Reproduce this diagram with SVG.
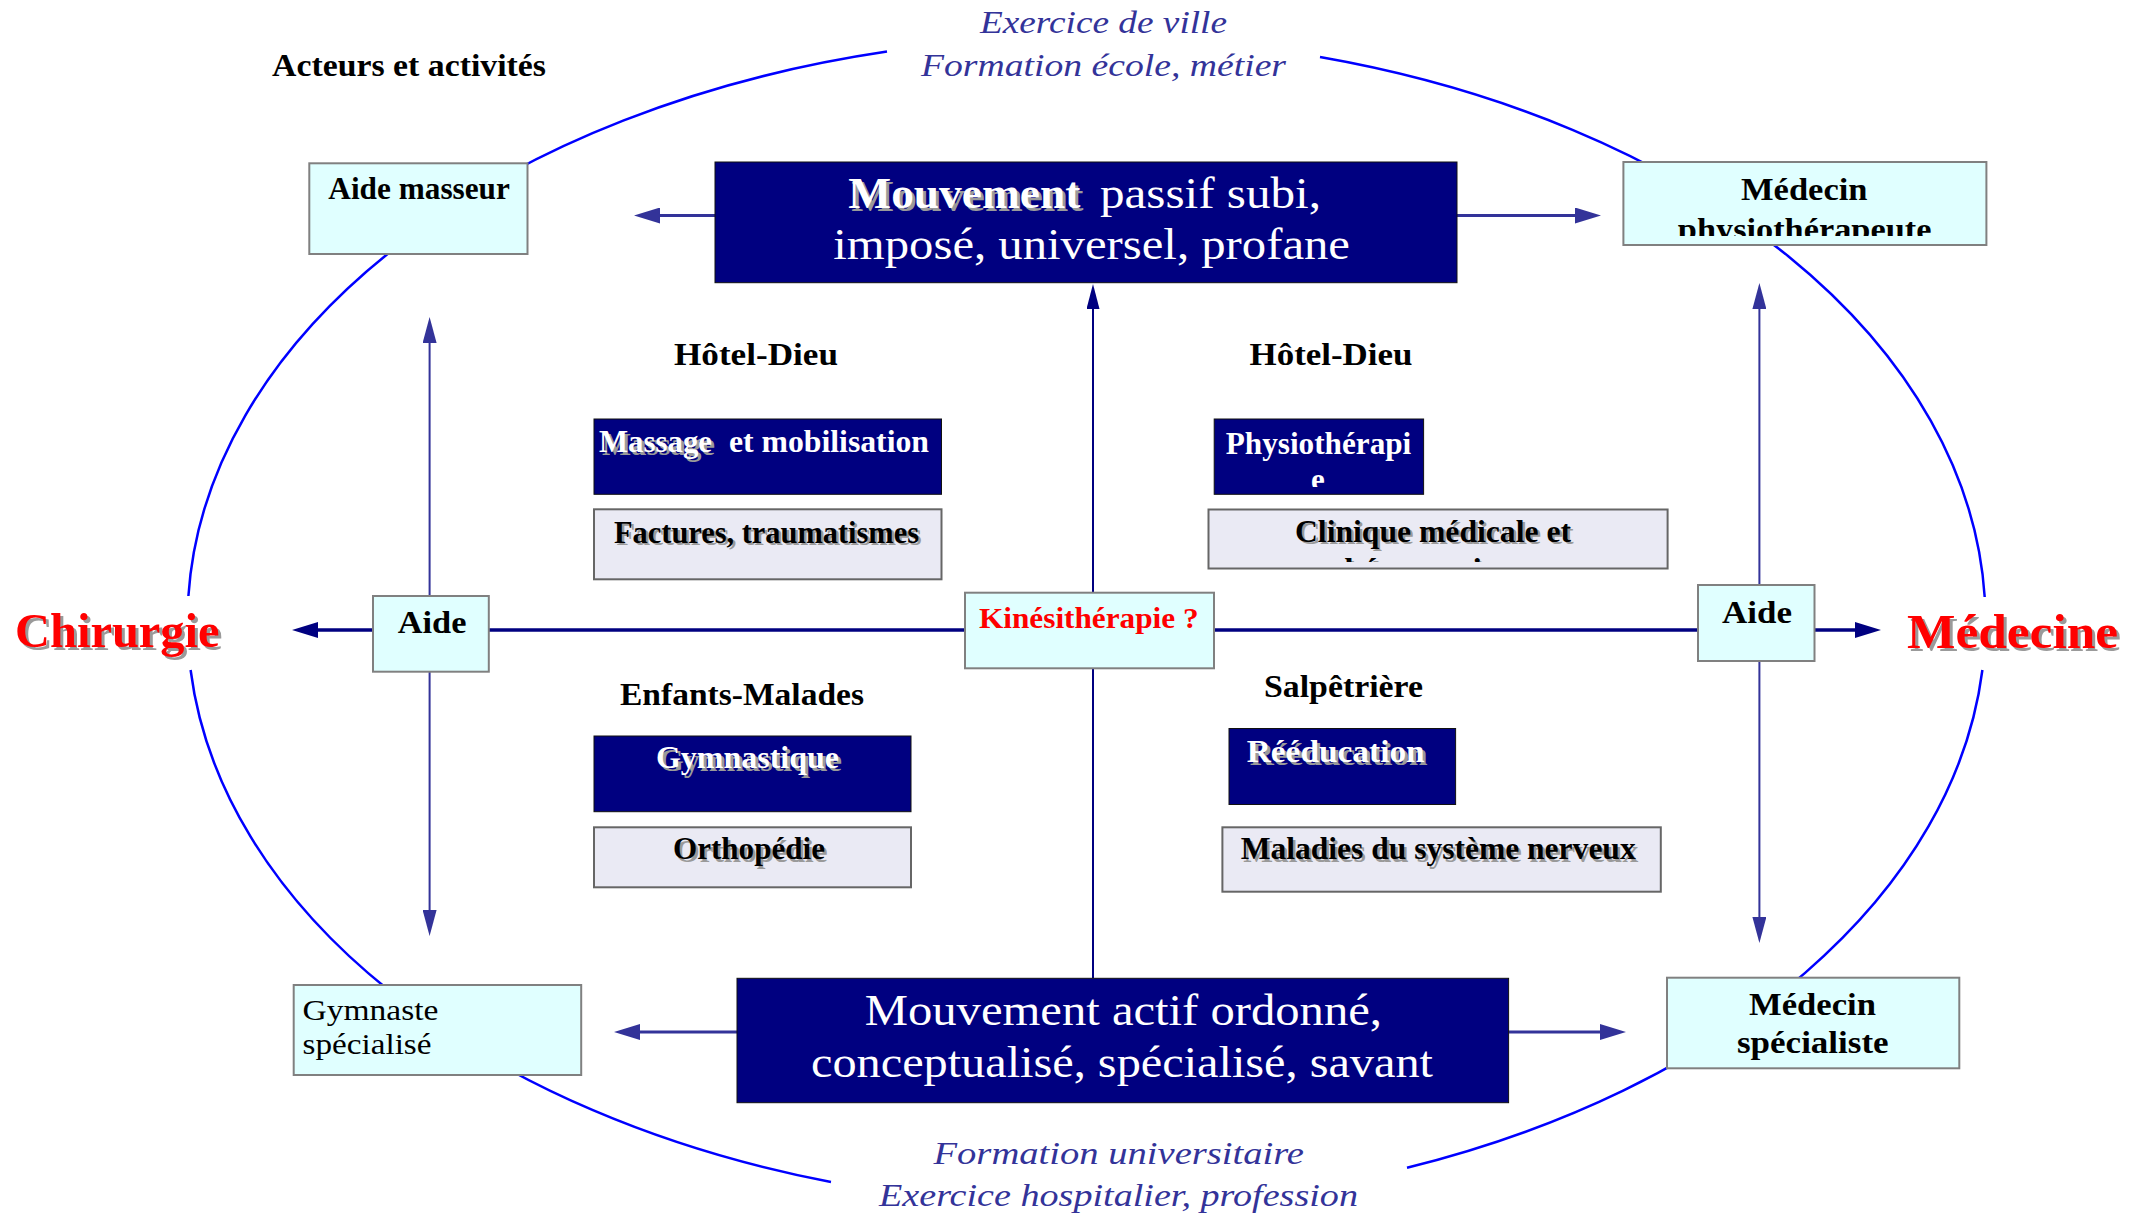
<svg xmlns="http://www.w3.org/2000/svg" width="2131" height="1217" viewBox="0 0 2131 1217">
<style>
.cyan{fill:#E0FFFF;stroke:#808080;stroke-width:2}
.lav{fill:#EAEAF4;stroke:#666666;stroke-width:2}
.navy{fill:#000080;stroke:#111111;stroke-width:1}
.t{font-family:"Liberation Serif","Times New Roman",serif;font-weight:bold;font-size:31px;fill:#000000}
.w{fill:#FFFFFF}
.sh{fill:#9A9A9A}
.red{fill:#FF0000}
.it{font-style:italic;font-weight:normal;font-size:32px;fill:#333399}
.big{font-weight:normal;font-size:45px;fill:#FFFFFF}
.huge{font-size:48px}
.reg{font-weight:normal}
.ell{fill:none;stroke:#0000FF;stroke-width:2.5}
.cb{stroke:#333399;stroke-width:3;fill:none}
.cv{stroke:#333399;stroke-width:2;fill:none}
.cn{stroke:#000080;stroke-width:3.5;fill:none}
.cc{stroke:#000080;stroke-width:2;fill:none}
</style>
<defs>
<marker id="ahB" markerUnits="userSpaceOnUse" viewBox="0 0 26 16" refX="0" refY="8" markerWidth="26" markerHeight="16" orient="auto-start-reverse"><path d="M0,0 L26,8 L0,16 z" fill="#333399"/></marker>
<marker id="ahN" markerUnits="userSpaceOnUse" viewBox="0 0 26 16" refX="0" refY="8" markerWidth="26" markerHeight="16" orient="auto-start-reverse"><path d="M0,0 L26,8 L0,16 z" fill="#000080"/></marker>
<marker id="ahV" markerUnits="userSpaceOnUse" viewBox="0 0 26 14" refX="0" refY="7" markerWidth="26" markerHeight="14" orient="auto-start-reverse"><path d="M0,0 L26,7 L0,14 z" fill="#333399"/></marker>
<marker id="ahC" markerUnits="userSpaceOnUse" viewBox="0 0 25 13" refX="0" refY="6.5" markerWidth="25" markerHeight="13" orient="auto-start-reverse"><path d="M0,0 L25,6.5 L0,13 z" fill="#000080"/></marker>
<clipPath id="clipMedPhys"><rect x="1623" y="162" width="364" height="74"/></clipPath>
<clipPath id="clipPhysio"><rect x="1214" y="419" width="210" height="68"/></clipPath>
<clipPath id="clipClin"><rect x="1208" y="509" width="460" height="53"/></clipPath>
</defs>

<g id="connectors">
  <path class="ell" d="M 887 51.6 A 899 584.6 0 0 0 188.4 596"/>
  <path class="ell" d="M 1320 57.1 A 899 584.6 0 0 1 1984.7 597"/>
  <path class="ell" d="M 1982.4 670 A 899 584.6 0 0 1 1407 1167.8"/>
  <path class="ell" d="M 831 1182.1 A 899 584.6 0 0 1 190.6 670"/>
  <line class="cn" x1="318" y1="630" x2="1855" y2="630" marker-start="url(#ahN)" marker-end="url(#ahN)"/>
  <line class="cv" x1="429.6" y1="343" x2="429.6" y2="910" marker-start="url(#ahV)" marker-end="url(#ahV)"/>
  <line class="cv" x1="1759.4" y1="309" x2="1759.4" y2="917" marker-start="url(#ahV)" marker-end="url(#ahV)"/>
  <line class="cc" x1="1093" y1="978" x2="1093" y2="309" marker-end="url(#ahC)"/>
  <line class="cb" x1="715" y1="215.5" x2="660" y2="215.5" marker-end="url(#ahB)"/>
  <line class="cb" x1="1457" y1="215.5" x2="1575" y2="215.5" marker-end="url(#ahB)"/>
  <line class="cb" x1="737" y1="1032" x2="640" y2="1032" marker-end="url(#ahB)"/>
  <line class="cb" x1="1508.6" y1="1032" x2="1600" y2="1032" marker-end="url(#ahB)"/>
</g>

<g id="label-acteurs">
  <text class="t" x="272" y="76" textLength="274" lengthAdjust="spacingAndGlyphs">Acteurs et activités</text>
</g>
<g id="label-ville">
  <text class="t it" x="980" y="33" textLength="247" lengthAdjust="spacingAndGlyphs">Exercice de ville</text>
  <text class="t it" x="921" y="75.5" textLength="365" lengthAdjust="spacingAndGlyphs">Formation école, métier</text>
</g>
<g id="label-universitaire">
  <text class="t it" x="933.5" y="1164.3" textLength="370.5" lengthAdjust="spacingAndGlyphs">Formation universitaire</text>
  <text class="t it" x="879" y="1206" textLength="479" lengthAdjust="spacingAndGlyphs">Exercice hospitalier, profession</text>
</g>

<g id="node-aide-masseur">
  <rect class="cyan" x="309.3" y="163.3" width="218.2" height="90.7"/>
  <text class="t" x="328.3" y="199" textLength="181.6" lengthAdjust="spacingAndGlyphs">Aide masseur</text>
</g>
<g id="node-medecin-physio">
  <rect class="cyan" x="1623.4" y="162" width="363" height="83"/>
  <text class="t" x="1741" y="200" textLength="126.5" lengthAdjust="spacingAndGlyphs">Médecin</text>
  <text class="t" x="1677.8" y="240" textLength="253.6" lengthAdjust="spacingAndGlyphs" clip-path="url(#clipMedPhys)">physiothérapeute</text>
</g>
<g id="node-mouvement-passif">
  <rect class="navy" x="715" y="162" width="742" height="120.7"/>
  <text class="t sh" x="851.3" y="211.3" textLength="232" lengthAdjust="spacingAndGlyphs" style="font-size:45px">Mouvement</text>
  <text class="t w" x="848.3" y="208.3" textLength="232" lengthAdjust="spacingAndGlyphs" style="font-size:45px">Mouvement</text>
  <text class="t big" x="1100" y="208.3" textLength="221" lengthAdjust="spacingAndGlyphs">passif subi,</text>
  <text class="t big" x="833.3" y="259.3" textLength="516.7" lengthAdjust="spacingAndGlyphs">imposé, universel, profane</text>
</g>

<g id="label-chirurgie">
  <text class="t huge sh" x="18" y="649.7" textLength="204.5" lengthAdjust="spacingAndGlyphs">Chirurgie</text>
  <text class="t huge red" x="15" y="646.7" textLength="204.5" lengthAdjust="spacingAndGlyphs">Chirurgie</text>
</g>
<g id="label-medecine">
  <text class="t huge sh" x="1910" y="650.7" textLength="211" lengthAdjust="spacingAndGlyphs">Médecine</text>
  <text class="t huge red" x="1907" y="647.7" textLength="211" lengthAdjust="spacingAndGlyphs">Médecine</text>
</g>

<g id="node-aide-left">
  <rect class="cyan" x="373" y="596" width="115.8" height="75.7"/>
  <text class="t" x="397.7" y="633.3" textLength="68.7" lengthAdjust="spacingAndGlyphs">Aide</text>
</g>
<g id="node-kinesitherapie">
  <rect class="cyan" x="965" y="592.7" width="249" height="75.6"/>
  <text class="t red" x="979" y="628.3" textLength="219.6" lengthAdjust="spacingAndGlyphs" style="font-size:30px">Kinésithérapie ?</text>
</g>
<g id="node-aide-right">
  <rect class="cyan" x="1698" y="585" width="116.5" height="76"/>
  <text class="t" x="1722" y="622.7" textLength="70" lengthAdjust="spacingAndGlyphs">Aide</text>
</g>

<g id="label-hotel-dieu-left">
  <text class="t" x="674" y="365" textLength="164" lengthAdjust="spacingAndGlyphs">Hôtel-Dieu</text>
</g>
<g id="label-hotel-dieu-right">
  <text class="t" x="1249.5" y="365" textLength="163" lengthAdjust="spacingAndGlyphs">Hôtel-Dieu</text>
</g>

<g id="node-massage">
  <rect class="navy" x="594" y="419" width="347.5" height="75.3"/>
  <text class="t sh" x="602" y="455" textLength="113" lengthAdjust="spacingAndGlyphs">Massage</text>
  <text class="t w" x="599" y="452" textLength="113" lengthAdjust="spacingAndGlyphs">Massage</text>
  <text class="t w" x="729" y="452" textLength="200" lengthAdjust="spacingAndGlyphs">et mobilisation</text>
</g>
<g id="node-factures">
  <rect class="lav" x="594" y="509.3" width="347.5" height="70"/>
  <text class="t sh" x="616.5" y="545.2" textLength="305" lengthAdjust="spacingAndGlyphs">Factures, traumatismes</text>
  <text class="t" x="614" y="542.7" textLength="305" lengthAdjust="spacingAndGlyphs">Factures, traumatismes</text>
</g>
<g id="node-physiotherapie">
  <rect class="navy" x="1214.2" y="419" width="209.4" height="75.3"/>
  <text class="t w" x="1225.8" y="454" textLength="185.5" lengthAdjust="spacingAndGlyphs">Physiothérapi</text>
  <text class="t w" x="1311" y="490" clip-path="url(#clipPhysio)">e</text>
</g>
<g id="node-clinique">
  <rect class="lav" x="1208.5" y="509.5" width="459.1" height="59"/>
  <g clip-path="url(#clipClin)">
    <text class="t sh" x="1297.5" y="544" textLength="276" lengthAdjust="spacingAndGlyphs">Clinique médicale et</text>
    <text class="t" x="1295" y="541.5" textLength="276" lengthAdjust="spacingAndGlyphs">Clinique médicale et</text>
    <text class="t sh" x="1335.5" y="582.5" textLength="201" lengthAdjust="spacingAndGlyphs">thérapeutique</text>
    <text class="t" x="1333" y="580" textLength="201" lengthAdjust="spacingAndGlyphs">thérapeutique</text>
  </g>
</g>

<g id="label-enfants-malades">
  <text class="t" x="620" y="705" textLength="244" lengthAdjust="spacingAndGlyphs">Enfants-Malades</text>
</g>
<g id="label-salpetriere">
  <text class="t" x="1264" y="697" textLength="159" lengthAdjust="spacingAndGlyphs">Salpêtrière</text>
</g>

<g id="node-gymnastique">
  <rect class="navy" x="594" y="736" width="317" height="75.7"/>
  <text class="t sh" x="659" y="771.3" textLength="183" lengthAdjust="spacingAndGlyphs">Gymnastique</text>
  <text class="t w" x="656" y="768.3" textLength="183" lengthAdjust="spacingAndGlyphs">Gymnastique</text>
</g>
<g id="node-orthopedie">
  <rect class="lav" x="594" y="827.3" width="317" height="60"/>
  <text class="t sh" x="675.5" y="861.8" textLength="152" lengthAdjust="spacingAndGlyphs">Orthopédie</text>
  <text class="t" x="673" y="859.3" textLength="152" lengthAdjust="spacingAndGlyphs">Orthopédie</text>
</g>
<g id="node-reeducation">
  <rect class="navy" x="1229" y="728.5" width="226.6" height="76"/>
  <text class="t sh" x="1249.7" y="764.7" textLength="178" lengthAdjust="spacingAndGlyphs">Rééducation</text>
  <text class="t w" x="1246.7" y="761.7" textLength="178" lengthAdjust="spacingAndGlyphs">Rééducation</text>
</g>
<g id="node-maladies">
  <rect class="lav" x="1222.4" y="827.3" width="438.4" height="64.4"/>
  <text class="t sh" x="1243.2" y="861.8" textLength="395" lengthAdjust="spacingAndGlyphs">Maladies du système nerveux</text>
  <text class="t" x="1240.7" y="859.3" textLength="395" lengthAdjust="spacingAndGlyphs">Maladies du système nerveux</text>
</g>

<g id="node-mouvement-actif">
  <rect class="navy" x="737" y="978.3" width="771.6" height="124.4"/>
  <text class="t big" x="864.7" y="1025" textLength="517.3" lengthAdjust="spacingAndGlyphs">Mouvement actif ordonné,</text>
  <text class="t big" x="811" y="1076.7" textLength="622" lengthAdjust="spacingAndGlyphs">conceptualisé, spécialisé, savant</text>
</g>
<g id="node-gymnaste">
  <rect class="cyan" x="293.7" y="985" width="287.5" height="90"/>
  <text class="t reg" x="302.5" y="1020" textLength="136" lengthAdjust="spacingAndGlyphs" style="font-size:29px">Gymnaste</text>
  <text class="t reg" x="302.5" y="1054.3" textLength="129" lengthAdjust="spacingAndGlyphs" style="font-size:29px">spécialisé</text>
</g>
<g id="node-medecin-specialiste">
  <rect class="cyan" x="1667" y="977.7" width="292.3" height="90.6"/>
  <text class="t" x="1749" y="1015" textLength="127" lengthAdjust="spacingAndGlyphs">Médecin</text>
  <text class="t" x="1737" y="1053.3" textLength="151.6" lengthAdjust="spacingAndGlyphs">spécialiste</text>
</g>
</svg>
